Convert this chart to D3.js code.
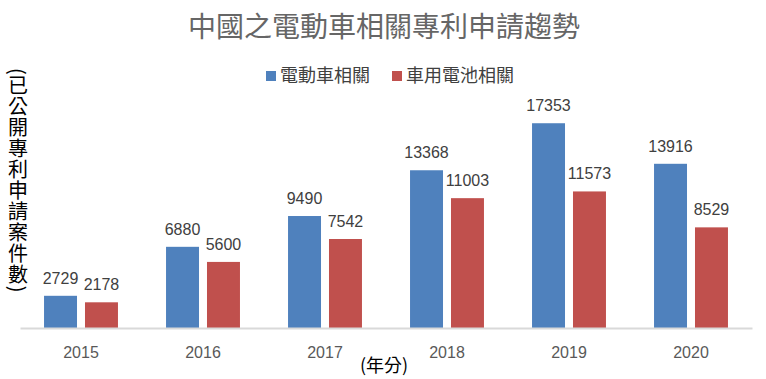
<!DOCTYPE html>
<html><head><meta charset="utf-8">
<script src="https://cdn.jsdelivr.net/npm/d3@7"></script>
<style>body{margin:0;background:#fff}svg{display:block}</style>
</head><body>
<svg id="c" width="766" height="379"></svg>
<script>
const years = ["2015","2016","2017","2018","2019","2020"];
const seriesNames = ["電動車相關","車用電池相關"];
const evValues = [2729, 6880, 9490, 13368, 17353, 13916];
const batteryValues = [2178, 5600, 7542, 11003, 11573, 8529];
const seriesColors = ["#4f81bd","#c0504d"];
const titleText = "中國之電動車相關專利申請趨勢";
const yLabel = "(已公開專利申請案件數)";
const xLabel = "(年分)";

const font = "'Noto Sans CJK TC','Noto Sans CJK SC',sans-serif";
const svg = d3.select("#c");
const x0 = d3.scaleBand().domain(years).range([20, 752]);
const bw = x0.bandwidth();
const x1 = d3.scaleBand().domain([0,1]).range([bw*0.197, bw*0.803]).paddingInner(0.195);
const y = d3.scaleLinear().domain([0, 20000]).range([328, 92]);

const data = years.map((yr,i)=>({yr, vals:[evValues[i], batteryValues[i]]}));

const g = svg.selectAll("g.cat").data(data).join("g").attr("class","cat")
  .attr("transform", d=>`translate(${x0(d.yr)},0)`);
g.selectAll("rect").data(d=>d.vals).join("rect")
  .attr("x",(v,i)=>x1(i)).attr("width",x1.bandwidth())
  .attr("y",v=>y(v)).attr("height",v=>y(0)-y(v))
  .attr("fill",(v,i)=>seriesColors[i]);
g.selectAll("text").data(d=>d.vals).join("text")
  .attr("x",(v,i)=>x1(i)+x1.bandwidth()/2).attr("y",v=>y(v)-12)
  .attr("text-anchor","middle").attr("font-family","'Liberation Sans',sans-serif")
  .attr("font-size",16).attr("fill","#404040").text(v=>v);

// x axis
const xAxis = d3.axisBottom(x0).tickSize(0).tickPadding(19);
const ax = svg.append("g").attr("transform","translate(0,328)").call(xAxis);
ax.select(".domain").attr("stroke","#d9d9d9").attr("stroke-width",2);
ax.selectAll("text").attr("font-family","'Liberation Sans',sans-serif").attr("font-size",16).attr("fill","#595959");

// title
svg.append("text").attr("x",384).attr("y",37).attr("text-anchor","middle")
  .attr("font-family",font).attr("font-size",28).attr("fill","#666").text(titleText);

// legend
const legX = [266, 392];
seriesNames.forEach((n,i)=>{
  svg.append("rect").attr("x",legX[i]).attr("y",71).attr("width",10).attr("height",10).attr("fill",seriesColors[i]);
  svg.append("text").attr("x",legX[i]+14).attr("y",82).attr("font-family",font)
    .attr("font-size",18).attr("fill","#404040").text(n);
});

// x label
svg.append("text").attr("x",384).attr("y",372).attr("text-anchor","middle")
  .attr("font-family",font).attr("font-size",18).attr("fill","#000").text(xLabel);

// y label vertical
svg.append("text").attr("x",18).attr("y",68)
  .attr("font-family",font).attr("font-size",20).attr("fill","#000")
  .attr("letter-spacing",1)
  .style("writing-mode","vertical-rl").style("text-orientation","mixed")
  .text(yLabel);
</script>
</body></html>
